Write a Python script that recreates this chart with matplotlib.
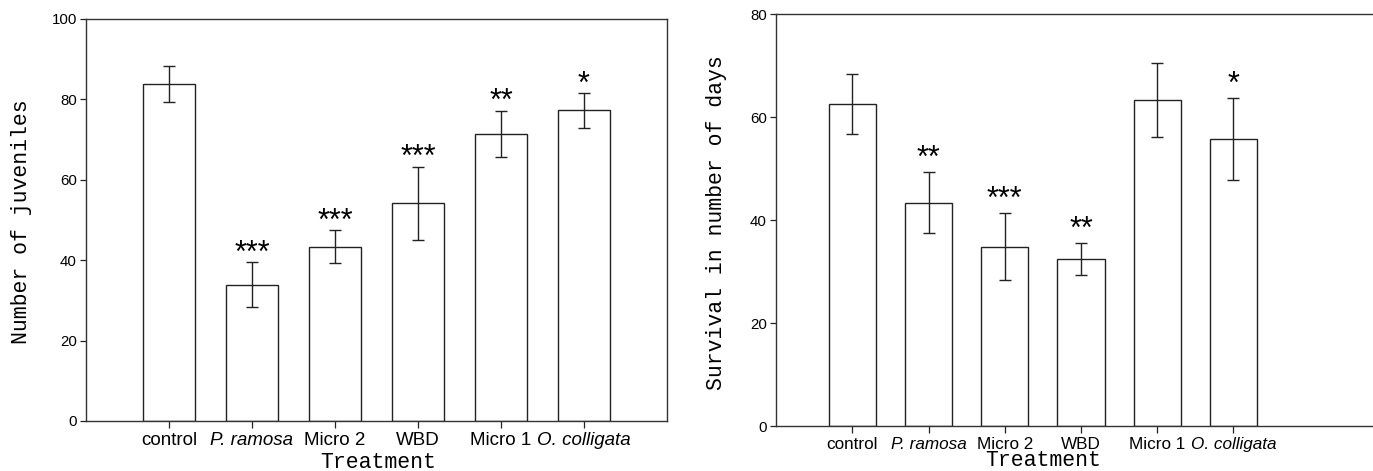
import matplotlib
matplotlib.use("Agg")
import matplotlib.pyplot as plt
import numpy as np

treatments = ["control", "P. ramosa", "Micro 2", "WBD", "Micro 1", "O. colligata"]
italic = {"P. ramosa", "O. colligata"}

juveniles = [83.8, 33.9, 43.4, 54.1, 71.4, 77.3]
juveniles_err = [4.5, 5.6, 4.1, 9.2, 5.8, 4.3]
juveniles_sig = ["", "***", "***", "***", "**", "*"]

survival = [62.6, 43.4, 34.8, 32.4, 63.3, 55.7]
survival_err = [5.8, 5.85, 6.5, 3.05, 7.2, 7.9]
survival_sig = ["", "**", "***", "**", "", "*"]

SANS = ["Liberation Sans", "DejaVu Sans"]
MONO = ["Liberation Mono", "DejaVu Sans Mono"]


def panel(ax, vals, errs, sigs, ylabel, ymax, xmax, star_off, xfs):
    x = np.arange(len(vals))
    ax.bar(x, vals, width=0.62, color="white", edgecolor="#222", linewidth=1.0, zorder=2)
    ax.errorbar(x, vals, yerr=errs, fmt="none", ecolor="#222", elinewidth=1.0,
                capsize=4.3, capthick=1.0, zorder=3)
    for xi, v, e, s in zip(x, vals, errs, sigs):
        if s:
            ax.annotate(s, (xi, v + e), xytext=(0, star_off), textcoords="offset points",
                        ha="center", va="center", fontsize=22, family=SANS)
    ax.set_xlim(-1, xmax)
    ax.set_ylim(0, ymax)
    ax.set_yticks(np.arange(0, ymax + 1, 20))
    ax.set_xticks(x)
    ax.set_xticklabels(treatments, family=SANS, fontsize=xfs)
    for lab in ax.get_xticklabels():
        if lab.get_text() in italic:
            lab.set_style("italic")
    for lab in ax.get_yticklabels():
        lab.set_family(SANS)
        lab.set_fontsize(10.8)
    ax.tick_params(axis="y", direction="out", length=4.5, width=0.9, pad=2, colors="#222",
                   labelcolor="black")
    ax.tick_params(axis="x", direction="out", length=5, width=0.9, pad=3, colors="#222",
                   labelcolor="black")
    ax.set_ylabel(ylabel, family=MONO, fontsize=15.5)
    ax.set_xlabel("Treatment", family=MONO, fontsize=15.5)
    for sp in ax.spines.values():
        sp.set_color("#333")
        sp.set_linewidth(1.0)


fig = plt.figure(figsize=(13.73, 4.71), dpi=100)

ax1 = fig.add_axes([0.0626, 0.1062, 0.4232, 0.8535])
panel(ax1, juveniles, juveniles_err, juveniles_sig, "Number of juveniles", 100, 6, 6, 13.5)
ax1.yaxis.set_label_coords(-0.093, 0.495)
ax1.xaxis.set_label_coords(0.503, -0.078)

ax2 = fig.add_axes([0.5652, 0.0955, 0.4348, 0.8747])
panel(ax2, survival, survival_err, survival_sig, "Survival in number of days", 80, 6.83, 10, 12.3)
ax2.spines["right"].set_visible(False)
ax2.yaxis.set_label_coords(-0.082, 0.494)
ax2.xaxis.set_label_coords(0.447, -0.057)

fig.savefig("out.png", dpi=100)
